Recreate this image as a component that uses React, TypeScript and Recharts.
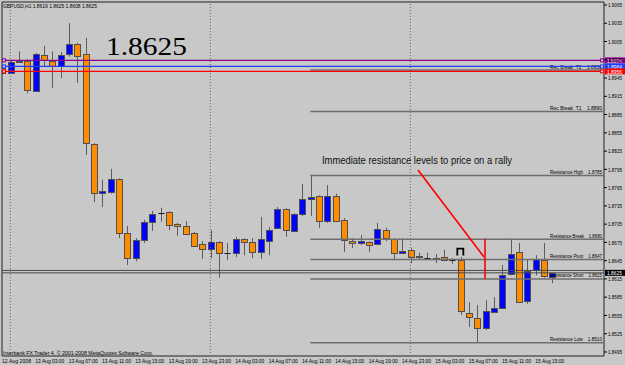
import { ComposedChart, Bar, XAxis, YAxis, ReferenceLine, ReferenceArea, ReferenceDot } from "recharts";

// GBPUSD H1, 12 Aug 23:00 .. 15 Aug 17:00 (one entry per bar)
const opens = [
  1.8962, 1.8953, 1.8971, 1.8973, 1.8924, 1.8983, 1.8973, 1.8965, 1.8984, 1.9001,
  1.8984, 1.8837, 1.8756, 1.8758, 1.8779, 1.869, 1.8649, 1.8679, 1.8709, 1.8723,
  1.8725, 1.8705, 1.8702, 1.869, 1.8672, 1.8664, 1.8676, 1.8658, 1.8658, 1.8681,
  1.8676, 1.8659, 1.8677, 1.8699, 1.873, 1.8694, 1.8722, 1.8746, 1.8751, 1.871,
  1.8751, 1.8712, 1.8677, 1.8674, 1.8676, 1.8672, 1.8695, 1.8681, 1.8658, 1.8663,
  1.8653, 1.8649, 1.8648, 1.8651, 1.8646, 1.8646, 1.8559, 1.8551, 1.8534, 1.8561,
  1.8567, 1.8623, 1.8659, 1.8579, 1.863, 1.8646, 1.8619,
];
const highs = [
  1.8965, 1.8973, 1.8989, 1.8976, 1.8986, 1.8998, 1.8989, 1.8988, 1.9035, 1.9003,
  1.9011, 1.8838, 1.8778, 1.8796, 1.878, 1.8702, 1.8682, 1.8712, 1.8727, 1.8732,
  1.8726, 1.8707, 1.871, 1.8692, 1.8677, 1.8695, 1.8677, 1.8674, 1.8684, 1.8682,
  1.8682, 1.8717, 1.87, 1.8733, 1.8731, 1.8723, 1.8771, 1.8786, 1.8752, 1.8769,
  1.8755, 1.8715, 1.8682, 1.8687, 1.8677, 1.8707, 1.8699, 1.8682, 1.8682, 1.8666,
  1.8658, 1.8658, 1.8656, 1.8663, 1.8649, 1.8651, 1.8577, 1.8572, 1.858, 1.8585,
  1.8638, 1.8681, 1.8674, 1.8646, 1.8654, 1.8674, 1.8625,
];
const lows = [
  1.895, 1.8952, 1.897, 1.892, 1.8922, 1.8963, 1.8929, 1.8945, 1.898, 1.8937,
  1.8819, 1.8741, 1.8733, 1.8755, 1.8682, 1.8638, 1.8644, 1.8674, 1.8694, 1.8709,
  1.8695, 1.8686, 1.8687, 1.8668, 1.8648, 1.8649, 1.8617, 1.8646, 1.8651, 1.8654,
  1.8649, 1.8648, 1.8654, 1.8697, 1.8684, 1.8692, 1.8718, 1.8718, 1.8699, 1.8707,
  1.8709, 1.8659, 1.8666, 1.8671, 1.8659, 1.8671, 1.8677, 1.8648, 1.8656, 1.8641,
  1.8646, 1.8646, 1.8641, 1.8644, 1.864, 1.8556, 1.8536, 1.851, 1.8531, 1.8559,
  1.8566, 1.8621, 1.8576, 1.8574, 1.8621, 1.8617, 1.8608,
];
const closes = [
  1.8953, 1.8971, 1.8973, 1.8925, 1.8984, 1.8975, 1.8965, 1.8983, 1.9001, 1.8981,
  1.8837, 1.8756, 1.876, 1.8779, 1.869, 1.8649, 1.8679, 1.8709, 1.8722, 1.8723,
  1.8704, 1.8702, 1.8689, 1.8669, 1.8664, 1.8676, 1.8658, 1.8658, 1.8681, 1.8676,
  1.8659, 1.8681, 1.8695, 1.873, 1.8695, 1.8722, 1.8746, 1.875, 1.871, 1.8751,
  1.871, 1.8679, 1.8674, 1.8677, 1.8671, 1.8697, 1.8682, 1.8658, 1.8661, 1.8651,
  1.8651, 1.8649, 1.8649, 1.8646, 1.8646, 1.8562, 1.8553, 1.8534, 1.8562, 1.8567,
  1.8621, 1.8656, 1.8577, 1.8628, 1.8648, 1.8619, 1.8625,
];

const timeTicks = [0, 4, 8, 12, 16, 20, 24, 28, 32, 36, 40, 44, 48, 52, 56, 60, 64];
const timeLabels = [
  "12 Aug 2008", "13 Aug 03:00", "13 Aug 07:00", "13 Aug 11:00", "13 Aug 15:00",
  "13 Aug 19:00", "13 Aug 23:00", "14 Aug 03:00", "14 Aug 07:00", "14 Aug 11:00",
  "14 Aug 15:00", "14 Aug 19:00", "14 Aug 23:00", "15 Aug 03:00", "15 Aug 07:00",
  "15 Aug 11:00", "15 Aug 15:00",
];
const priceTicks = [
  1.8495, 1.8525, 1.8555, 1.8585, 1.8615, 1.8645, 1.8675, 1.8705, 1.8735, 1.8765,
  1.8795, 1.8825, 1.8855, 1.8885, 1.8915, 1.8945, 1.8975, 1.9005, 1.9035, 1.9065,
];
const daySeparators = [1, 25, 49];

// support/resistance objects drawn from bar 37 to the right edge
const levelNames = ["Rec Break  T2", "Rec Break  T1", "Resistance High", "Resistance Break", "Resistance Pivot", "Resistance Short", "Resistance Low"];
const levelValues = [1.8958, 1.889, 1.8785, 1.868, 1.8647, 1.8615, 1.851];
const levelStart = 37;

const markValues = [1.8974, 1.8964, 1.8956];
const markColors = ["#8b008b", "#1f3fff", "#ff0000"];
const bid = 1.8625;
const ask = 1.8629;

// hand-drawn arrow: diagonal + vertical stroke
const arrowFrom = { x: 49.92, y: 1.8794 };
const arrowTo = { x: 57.84, y: 1.8651 };
const stemTop = 1.8681;
const stemBottom = 1.8615;
const stemX = 57.96;

const X_MAX = 72.24;
const Y_MIN = 1.84884;
const Y_MAX = 1.90699;
const BG = "#c8c8c8";
const FONT = "'Liberation Sans', Arial, sans-serif";

const candles = opens.map((o, i) => ({
  i,
  open: o,
  high: highs[i],
  low: lows[i],
  close: closes[i],
  range: [lows[i], highs[i]],
}));

const Candle = (props: any) => {
  const { x, y, width, height, payload } = props;
  if (x == null || y == null) return null;
  const { open, close, high, low } = payload;
  const top = Math.min(y, y + height);
  const h = Math.abs(height);
  const toY = (v: number) => top + ((high - v) / (high - low || 1)) * h;
  const cx = Math.round(x + width / 2) + 0.5;
  const yo = toY(open);
  const yc = toY(close);
  const bTop = Math.round(Math.min(yo, yc));
  const bH = Math.max(1, Math.round(Math.abs(yc - yo)));
  const up = close > open;
  const doji = close === open;
  return (
    <g>
      <line x1={cx} x2={cx} y1={top} y2={top + h} stroke="#5c5c5c" strokeWidth={1} />
      {doji ? (
        <line x1={cx - 3} x2={cx + 3} y1={bTop + 0.5} y2={bTop + 0.5} stroke="#111" strokeWidth={1} />
      ) : (
        <rect
          x={cx - 3}
          y={bTop + 0.5}
          width={6}
          height={bH}
          fill={up ? "#0000ff" : "#ff8c00"}
          stroke="#505050"
          strokeWidth={1}
        />
      )}
    </g>
  );
};

const TimeTick = (props: any) => {
  const { x, y, payload } = props;
  const k = timeTicks.indexOf(payload.value);
  return (
    <text x={x} y={y + 6.5} fontSize={6} fontFamily={FONT} fill="#000" textLength={29} lengthAdjust="spacingAndGlyphs">
      {timeLabels[k]}
    </text>
  );
};

const PriceTick = (props: any) => {
  const { x, y, payload } = props;
  return (
    <text x={x} y={y + 2.2} fontSize={6} fontFamily={FONT} fill="#000" textLength={14} lengthAdjust="spacingAndGlyphs">
      {payload.value.toFixed(4)}
    </text>
  );
};

const LevelLabel = ({ viewBox, name, value }: any) => {
  if (!viewBox) return null;
  const right = viewBox.x + viewBox.width;
  return (
    <text
      x={right - 54}
      y={viewBox.y - 1.5}
      fontFamily={FONT}
      fontSize={5.5}
      fill="#000"
      textLength={52}
      lengthAdjust="spacingAndGlyphs"
      style={{ whiteSpace: "pre" }}
    >
      {`${name}    ${value.toFixed(4)}`}
    </text>
  );
};

const PriceBox = ({ viewBox, value, color, ends }: any) => {
  if (!viewBox) return null;
  const right = viewBox.x + viewBox.width;
  const y = viewBox.y;
  return (
    <g>
      {ends && <rect x={viewBox.x + 0.5} y={y - 1.5} width={3} height={3} fill={BG} stroke={color} />}
      {ends && <rect x={right - 3.5} y={y - 1.5} width={3} height={3} fill={BG} stroke={color} />}
      <rect x={right + 1} y={y - 3} width={20} height={6} fill={color} />
      <text x={right + 3} y={y + 2.3} fontSize={5.5} fontFamily={FONT} fill="#fff" textLength={15} lengthAdjust="spacingAndGlyphs">
        {value.toFixed(4)}
      </text>
    </g>
  );
};

const Pi = (props: any) => {
  const { cx, cy } = props;
  if (cx == null) return null;
  return (
    <path
      d={`M${cx - 3} ${cy + 4} V${cy - 3} H${cx + 3} V${cy + 4}`}
      fill="none"
      stroke="#000"
      strokeWidth={1.8}
    />
  );
};

export default function App() {
  return (
    <div style={{ position: "absolute", left: 0, top: 0, width: 625, height: 365, background: BG, overflow: "hidden" }}>
      <ComposedChart width={625} height={365} data={candles} margin={{ top: 2, right: 0, bottom: 0, left: 2 }}>
        <XAxis
          dataKey="i"
          type="number"
          domain={[0, X_MAX]}
          ticks={timeTicks}
          interval={0}
          height={9}
          allowDataOverflow
          axisLine={false}
          tickLine={false}
          tickSize={0}
          tickMargin={0}
          tick={<TimeTick />}
        />
        <YAxis
          orientation="right"
          type="number"
          width={21}
          domain={[Y_MIN, Y_MAX]}
          ticks={priceTicks}
          interval={0}
          allowDataOverflow
          axisLine={false}
          tickSize={3}
          tickMargin={1}
          tickLine={{ stroke: "#000" }}
          tick={<PriceTick />}
        />

        {daySeparators.map((d) => (
          <ReferenceLine key={d} x={d} stroke="#666" strokeDasharray="1 2" ifOverflow="visible" />
        ))}

        <Bar dataKey="range" shape={<Candle />} isAnimationActive={false} />

        {levelValues.map((v, k) => (
          <ReferenceLine
            key={levelNames[k]}
            segment={[{ x: levelStart, y: v }, { x: X_MAX, y: v }]}
            stroke="#6e6e6e"
            strokeWidth={1.5}
            ifOverflow="visible"
            label={(p: any) => <LevelLabel {...p} name={levelNames[k]} value={v} />}
          />
        ))}

        <ReferenceLine y={ask} stroke="#4a4a4a" ifOverflow="visible" />
        <ReferenceLine
          y={bid}
          stroke="#4a4a4a"
          ifOverflow="visible"
          label={(p: any) => <PriceBox {...p} value={bid} color="#000" />}
        />

        {markValues.map((v, k) => (
          <ReferenceLine
            key={v}
            y={v}
            stroke={markColors[k]}
            strokeWidth={1.3}
            ifOverflow="visible"
            label={(p: any) => <PriceBox {...p} value={v} color={markColors[k]} ends />}
          />
        ))}

        <ReferenceLine
          segment={[arrowFrom, arrowTo]}
          stroke="#ff0000"
          strokeWidth={1.6}
          ifOverflow="visible"
        />
        <ReferenceLine
          segment={[{ x: stemX, y: stemTop }, { x: stemX, y: stemBottom }]}
          stroke="#ff0000"
          strokeWidth={1.6}
          ifOverflow="visible"
        />
        <ReferenceDot x={55} y={1.866} shape={<Pi />} ifOverflow="visible" />

        <ReferenceArea x1={0} x2={X_MAX} y1={Y_MIN} y2={Y_MAX} fill="none" stroke="#222" strokeWidth={1} ifOverflow="visible" />
      </ComposedChart>

      <svg width={625} height={365} style={{ position: "absolute", left: 0, top: 0, pointerEvents: "none" }}>
        <text x={3} y={7.5} fontSize={6} fontFamily={FONT} fill="#000" textLength={94} lengthAdjust="spacingAndGlyphs">
          GBPUSD,H1  1.8619 1.8625 1.8608 1.8625
        </text>
        <text x={106} y={55} fontSize={26} fontFamily="'Liberation Serif', 'Times New Roman', serif" fill="#000" textLength={81} lengthAdjust="spacingAndGlyphs">
          1.8625
        </text>
        <text x={322} y={164} fontSize={10} fontFamily={FONT} fill="#111" textLength={190} lengthAdjust="spacingAndGlyphs">
          Immediate resistance levels to price on a rally
        </text>
        <text x={3} y={354.5} fontSize={6} fontFamily={FONT} fill="#000" textLength={150} lengthAdjust="spacingAndGlyphs">
          Interbank FX Trader 4, © 2001-2008 MetaQuotes Software Corp.
        </text>
      </svg>
    </div>
  );
}
